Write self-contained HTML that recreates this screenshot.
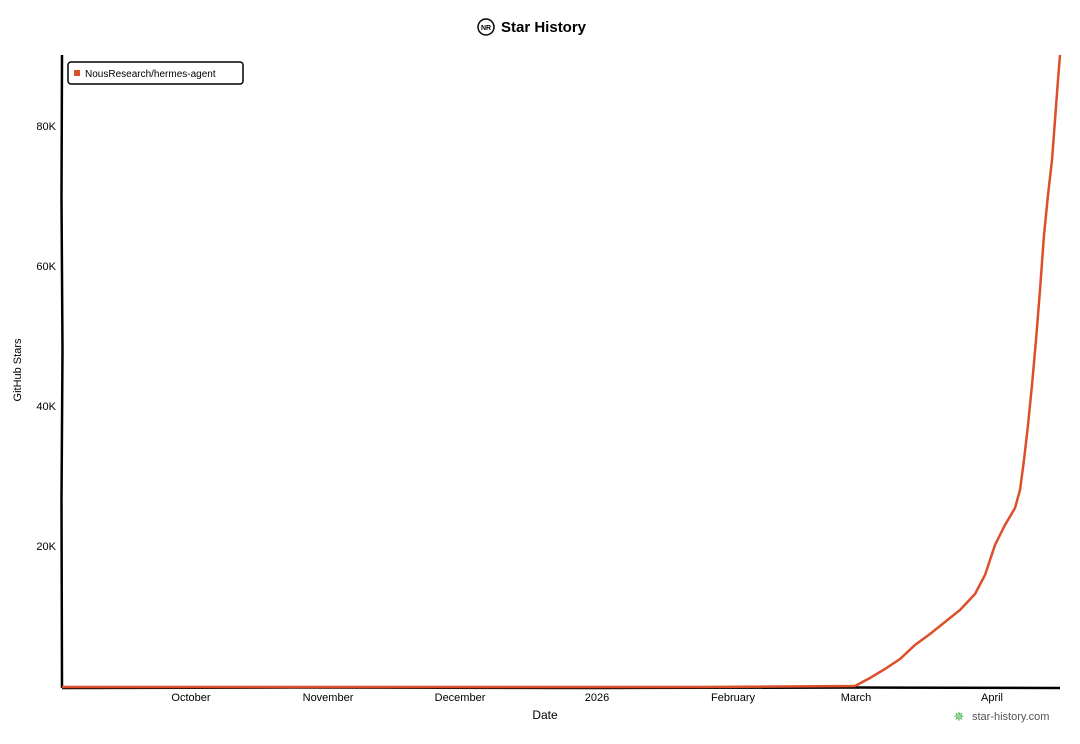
<!DOCTYPE html>
<html><head><meta charset="utf-8"><style>
html,body{margin:0;padding:0;background:#fff;}
svg{display:block;font-family:"Liberation Sans",sans-serif;}
</style></head><body>
<svg width="1080" height="744" viewBox="0 0 1080 744">
<rect width="1080" height="744" fill="#fff"/>
<circle cx="486" cy="27" r="8" fill="none" stroke="#000" stroke-width="1.5"/>
<text x="486" y="30" font-size="7" font-weight="bold" text-anchor="middle">NR</text>
<text x="501" y="32" font-size="15" font-weight="bold">Star History</text>
<path d="M62 55 L61.5 200 L62.5 350 L61.5 500 L62 688" stroke="#000" stroke-width="2.5" fill="none"/>
<path d="M62 688 L300 687.5 L600 688 L860 687.5 L1060 688" stroke="#000" stroke-width="2.5" fill="none"/>
<g font-size="11" text-anchor="end" fill="#000">
<text x="56" y="130">80K</text>
<text x="56" y="270">60K</text>
<text x="56" y="410">40K</text>
<text x="56" y="550">20K</text>
</g>
<text transform="translate(21,370) rotate(-90)" font-size="11" text-anchor="middle">GitHub Stars</text>
<g font-size="11" text-anchor="middle">
<text x="191" y="701">October</text>
<text x="328" y="701">November</text>
<text x="460" y="701">December</text>
<text x="597" y="701">2026</text>
<text x="733" y="701">February</text>
<text x="856" y="701">March</text>
<text x="992" y="701">April</text>
</g>
<text x="545" y="719" font-size="12" text-anchor="middle">Date</text>
<polyline fill="none" stroke="#dd4f2a" stroke-width="2.5" points="62,687 400,687 700,687 855,686 870,678 885,669 900,659 915,645 930,634 945,622 960,610 975,594 985,575 995,545 1005,525 1015,508 1020,490 1024,460 1028,425 1032,385 1036,340 1040,290 1044,235 1048,195 1052,160 1055,120 1058,80 1060,55"/>
<rect x="68" y="62" width="175" height="22" rx="3" fill="#fff" stroke="#000" stroke-width="1.5"/>
<rect x="74" y="70" width="6" height="6" fill="#dd4f2a"/>
<text x="85" y="77" font-size="10">NousResearch/hermes-agent</text>
<text x="959" y="721" font-size="13" fill="#3cb043" text-anchor="middle">✵</text>
<text x="972" y="720" font-size="11" fill="#555">star-history.com</text>
</svg>
</body></html>
